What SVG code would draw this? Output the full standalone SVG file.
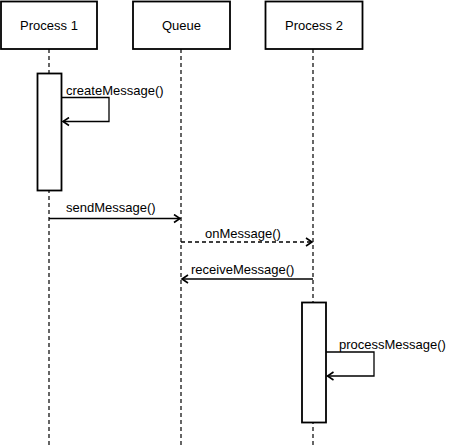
<svg xmlns="http://www.w3.org/2000/svg" width="450" height="447" viewBox="0 0 450 447">
<style>
.box{fill:#fff;stroke:#000;stroke-width:1.8}
.life{stroke:#000;stroke-width:1.2;stroke-dasharray:4,3;fill:none}
.msg{stroke:#000;stroke-width:1.3;fill:none}
.dash{stroke-dasharray:4,3}
text{font-family:"Liberation Sans",Arial,sans-serif;font-size:13px;fill:#000}
.c{text-anchor:middle}
</style>
<defs>
<marker id="arr" markerWidth="10" markerHeight="10" refX="8" refY="5" orient="auto" markerUnits="userSpaceOnUse">
<path d="M2,1 L8,5 L2,9" fill="none" stroke="#000" stroke-width="1.6"/>
</marker>
</defs>
<g id="lifelines">
<line class="life" x1="49" y1="49" x2="49" y2="447"/>
<line class="life" x1="181" y1="49" x2="181" y2="447"/>
<line class="life" x1="313" y1="49" x2="313" y2="447"/>
</g>
<g id="process1"><rect class="box" x="1" y="1.5" width="96" height="47.5"/><text class="c" x="49" y="30">Process 1</text></g>
<g id="queue"><rect class="box" x="133" y="1.5" width="97" height="47.5"/><text class="c" x="181.5" y="30">Queue</text></g>
<g id="process2"><rect class="box" x="265.5" y="1.5" width="97" height="47.5"/><text class="c" x="314" y="30">Process 2</text></g>
<g id="activation1"><rect class="box" x="37.5" y="73.5" width="24" height="117"/></g>
<g id="activation2"><rect class="box" x="302" y="302.5" width="24" height="120"/></g>
<g id="connectors">
<path class="msg" d="M61.5,97.5 H109 V121.5 H63" marker-end="url(#arr)"/>
<line class="msg" x1="49" y1="218.5" x2="180" y2="218.5" marker-end="url(#arr)"/>
<line class="msg dash" x1="181" y1="242" x2="312" y2="242" marker-end="url(#arr)"/>
<line class="msg" x1="313" y1="279" x2="182" y2="279" marker-end="url(#arr)"/>
<path class="msg" d="M326,352 H374 V376 H327.5" marker-end="url(#arr)"/>
</g>
<g id="labels">
<text x="66" y="95">createMessage()</text>
<text x="66" y="212">sendMessage()</text>
<text x="205" y="238">onMessage()</text>
<text x="191" y="274">receiveMessage()</text>
<text x="339" y="349">processMessage()</text>
</g>
</svg>
